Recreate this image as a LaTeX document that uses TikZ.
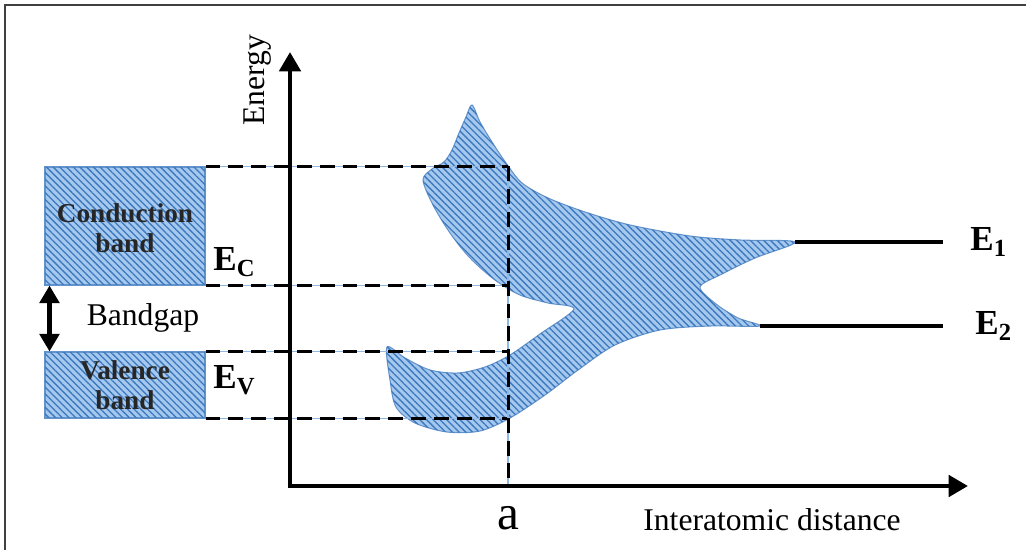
\documentclass[tikz,border=0pt]{standalone}
\usepackage{fontspec}
\setmainfont{Liberation Serif}
\usetikzlibrary{arrows.meta,patterns.meta,positioning}
\definecolor{bandblue}{RGB}{165,200,238}
\definecolor{hatchblue}{RGB}{60,120,190}
\begin{document}
\begin{tikzpicture}[x=0.02cm,y=-0.02cm,
    band/.style={fill=bandblue,draw=hatchblue!80,line width=0.6pt,
      postaction={pattern={Lines[angle=-45,distance=2.7pt,line width=0.75pt]},pattern color=hatchblue}},
    guide/.style={line width=1.7pt,dash pattern=on 8.5pt off 4.5pt,
      preaction={draw=bandblue!80!hatchblue,line width=0.8pt,solid}},
    axis/.style={line width=2.6pt,-{Triangle[length=11pt,width=12pt]}},
    level/.style={line width=1.8pt},
    bandtext/.style={font=\bfseries\fontsize{15.5}{17}\selectfont,align=center,text=black!85},
    elabel/.style={font=\bfseries\fontsize{20}{22}\selectfont,inner sep=0pt},
    plain/.style={font=\fontsize{18}{20}\selectfont}]
    \useasboundingbox (0,0) rectangle (1026,550);
    \draw[line width=1pt,black!75] (1026,5) -- (5,5) -- (5,550);
    % band diagram of the solid
    \node[band,minimum width=3.2cm,minimum height=2.36cm,inner sep=0pt] (cond) at (125,226) {};
    \node[band,minimum width=3.2cm,minimum height=1.32cm,inner sep=0pt] (val) at (125,385) {};
    \node[bandtext] (condtext) at (125,228) {Conduction\\band};
    \node[bandtext] (valtext) at (125,385) {Valence\\band};
    % splitting of the levels
    \filldraw[band] plot[smooth cycle,tension=0.5] coordinates {
      (472,105) (480,122) (492,142) (506,163) (522,183) (548,198) (585,212)
      (630,225) (690,236) (740,240) (795,242) (755,258) (722,274) (700,287)
      (716,304) (738,318) (760,326) (710,326) (660,330) (615,345) (578,370)
      (545,395) (510,418) (480,431) (447,432) (415,423) (396,407) (390,380)
      (387,347) (405,358) (430,370) (458,373) (485,367) (510,355) (540,334)
      (574,309) (548,303) (520,295) (495,280) (470,258) (450,233) (433,205)
      (423,180) (432,169) (444,162) (452,150) (459,133) (466,117)};
    \coordinate (O) at (290,486);
    \coordinate (ytip) at (290,52);
    \coordinate (xtip) at (968,486);
    \coordinate (aX) at (508,486);
    % guides
    \draw[guide] (cond.north east) -- (cond.north east -| aX);
    \draw[guide] (cond.south east) -- (cond.south east -| aX);
    \draw[guide] (val.north east) -- (val.north east -| aX);
    \draw[guide] (val.south east) -- (val.south east -| aX);
    \draw[guide] (cond.north east -| aX) -- (aX);
    % axes
    \draw[axis] (O) -- (ytip);
    \draw[axis] ([xshift=-1.3pt]O) -- (xtip);
    \node[plain,rotate=90] (energy) at (258,80) {Energy};
    \node[font=\fontsize{28}{30}\selectfont] (a) at (508,518) {a};
    \node[plain] (dist) at (772,520) {Interatomic distance};
    % levels of the isolated atoms
    \coordinate (e1start) at (795,242);
    \coordinate (e1end) at (943,242);
    \coordinate (e2start) at (760,326);
    \coordinate (e2end) at (943,326);
    \draw[level] (e1start) -- (e1end);
    \draw[level] (e2start) -- (e2end);
    \node[elabel,right=0.54cm of e1end] (E1) {E\textsubscript{1}};
    \node[elabel,right=0.64cm of e2end] (E2) {E\textsubscript{2}};
    \node[elabel,anchor=west] (EC) at (213,262) {E\textsubscript{C}};
    \node[elabel,anchor=west] (EV) at (213,380) {E\textsubscript{V}};
    % gap
    \draw[line width=2.6pt,{Triangle[length=10pt,width=11pt]}-{Triangle[length=10pt,width=11pt]}]
      ([xshift=0.1cm]cond.south west) -- ([xshift=0.1cm]val.north west);
    \node[plain] (gap) at (143,318) {Bandgap};
  \end{tikzpicture}
\end{document}
